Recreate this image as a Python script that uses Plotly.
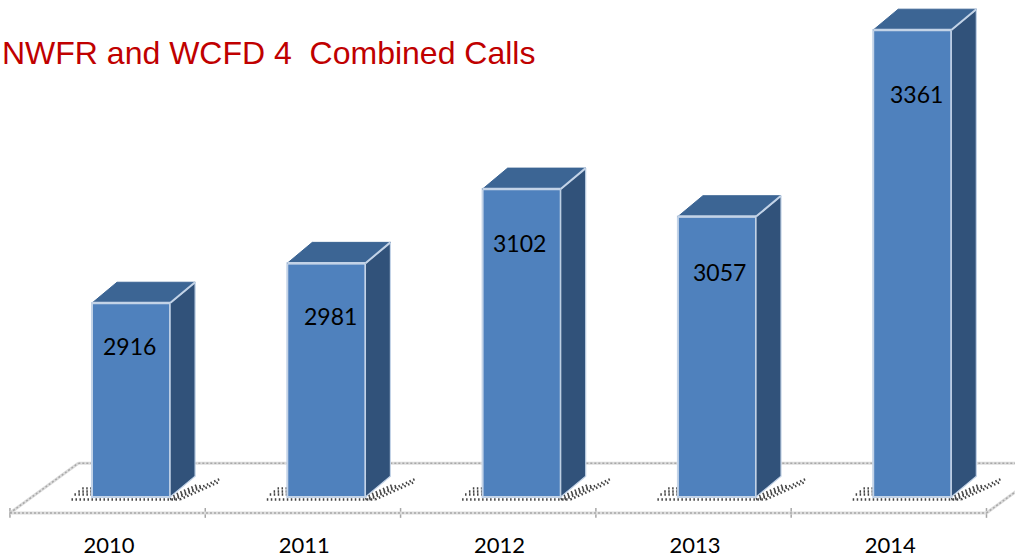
import plotly.graph_objects as go

years = ["2010", "2011", "2012", "2013", "2014"]
calls = [2916, 2981, 3102, 3057, 3361]
title_text = "NWFR and WCFD 4\u00a0\u00a0Combined Calls"

BASE = 2600
BAR_W = 0.4
DX = 0.128      # depth offset in category units
DY = 34         # depth offset in value units
FRONT_C, SIDE_C, TOP_C, EDGE_C = "#4F81BD", "#31527A", "#3C6594", "#C3D3E7"
label_shift_x = [-2, 4, -2, 3, 4]
label_shift_y = [-43, -53, -54, -55, -64]
idx = list(range(len(years)))

fig = go.Figure()
shapes = []


def seg(x0, y0, x1, y1, col, w, dash="solid"):
    shapes.append(dict(type="line", xref="x", yref="y", x0=x0, y0=y0, x1=x1, y1=y1,
                       layer="below", line=dict(color=col, width=w, dash=dash)))


def poly(xs, ys, fill=None, line="rgba(0,0,0,0)", w=1):
    fig.add_trace(go.Scatter(
        x=xs, y=ys, mode="lines", fill="toself" if fill else None,
        fillcolor=fill, line=dict(color=line, width=w),
        hoverinfo="skip", showlegend=False))


# floor frame
FL, FB, BK = -0.62, 2574, 2655
FD = 0.35
for i in range(len(years) + 1):
    seg(FL + i, FB - 8, FL + i, FB + 8, "#a6a6a6", 1.5)
for col, w, dash in [("#dcdcdc", 3, "solid"), ("#a8a8a8", 1.5, "2px,2px")]:
    seg(FL, FB, FL + 5, FB, col, w, dash)
    seg(FL, FB, FL + FD, BK, col, w, dash)
    seg(FL + FD, BK, FL + 6, BK, col, w, dash)
    seg(FL + 5, FB, FL + 5 + FD, BK, col, w, dash)

# floor shadows
DOT = "1.5px,2.5px"
SHADE = "#444444"
for i in idx:
    l, r = i - BAR_W / 2, i + BAR_W / 2
    seg(l - 0.105, BASE - 4, r + 0.05, BASE - 4, SHADE, 2.4, DOT)
    seg(l - 0.09, BASE + 4, l, BASE + 4, SHADE, 2.4, DOT)
    seg(l - 0.07, BASE + 9, l, BASE + 9, SHADE, 2.4, DOT)
    seg(l - 0.05, BASE + 14, l, BASE + 14, SHADE, 2.4, DOT)
    for off, yo, ln in [(0.0, 0, 0.16), (0.02, 0, 0.24), (0.05, 0, 0.2), (0.015, 6, 0.12)]:
        seg(r + off, BASE - 4 + yo, r + off + ln, BASE - 4 + yo + ln * 142, SHADE, 2.4, DOT)

# front faces
fig.add_trace(go.Bar(
    x=idx, y=[v - BASE for v in calls], base=BASE, width=BAR_W,
    marker=dict(color=FRONT_C, line=dict(color=EDGE_C, width=2)),
    hoverinfo="skip", showlegend=False))

# side and top faces
for i, v in zip(idx, calls):
    l, r = i - BAR_W / 2, i + BAR_W / 2
    poly([r, r + DX, r + DX, r, r], [BASE, BASE + DY, v + DY, v, BASE], fill=SIDE_C, line=EDGE_C, w=1.2)
    poly([l, l + DX, r + DX, r, l], [v, v + DY, v + DY, v, v], fill=TOP_C, line=TOP_C, w=1)
    poly([r, r + DX], [v, v + DY], line=EDGE_C, w=2)
    poly([l, r], [v, v], line=EDGE_C, w=2.5)

annotations = [dict(x=i, y=v, text=str(v), showarrow=False, xshift=sx_, yshift=sy_,
                    font=dict(family="Lato", size=23, color="#000000"))
               for i, v, sx_, sy_ in zip(idx, calls, label_shift_x, label_shift_y)]
annotations.append(dict(xref="paper", yref="paper", x=0, y=1, xanchor="left", yanchor="top",
                        xshift=0, yshift=-33, text=title_text, showarrow=False,
                        font=dict(family="Liberation Sans", size=32, color="#C00000")))

fig.update_layout(
    width=1015, height=558, margin=dict(l=0, r=0, t=0, b=28),
    paper_bgcolor="white", plot_bgcolor="rgba(0,0,0,0)", showlegend=False,
    annotations=annotations, shapes=shapes,
    xaxis=dict(range=[-0.671, 4.526], tickvals=[i - 0.113 for i in idx], ticktext=years,
               showgrid=False, zeroline=False, showline=False, ticks="", automargin=False,
               tickfont=dict(family="Lato", size=22, color="#000000")),
    yaxis=dict(range=[2546.2, 3410], visible=False, showgrid=False, zeroline=False),
)

fig.write_html("out.html", config={"displayModeBar": False},
               post_script="document.body.style.margin='0';document.body.style.overflow='hidden';")
